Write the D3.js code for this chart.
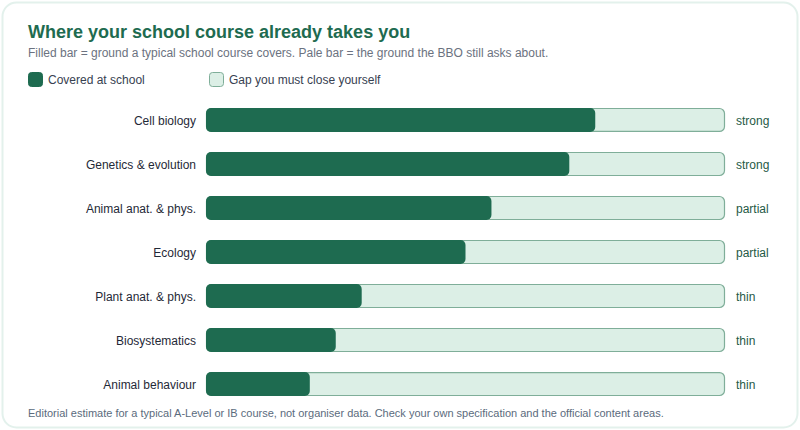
<!DOCTYPE html>
<html>
<head>
<meta charset="utf-8">
<script src="https://cdn.jsdelivr.net/npm/d3@7"></script>
<style>
  html, body { margin: 0; padding: 0; background: #fff; }
  body { width: 800px; height: 430px; font-family: "Liberation Sans", Arial, sans-serif; }
</style>
</head>
<body>
<div id="chart"></div>
<script>
const topics = ["Cell biology", "Genetics & evolution", "Animal anat. & phys.", "Ecology",
                "Plant anat. & phys.", "Biosystematics", "Animal behaviour"];
const covered = [0.75, 0.70, 0.55, 0.50, 0.30, 0.25, 0.20];
const ratings = ["strong", "strong", "partial", "partial", "thin", "thin", "thin"];
const legendLabels = ["Covered at school", "Gap you must close yourself"];

const W = 800, H = 430;
const dark = "#1e6b50", pale = "#dcefe6", paleStroke = "#7fae99";

const svg = d3.select("#chart").append("svg")
    .attr("width", W).attr("height", H);

// card
svg.append("rect")
    .attr("x", 2.5).attr("y", 2.5)
    .attr("width", W - 5).attr("height", H - 5)
    .attr("rx", 14)
    .attr("fill", "#fff")
    .attr("stroke", "#e3f1ec")
    .attr("stroke-width", 2);

svg.append("text")
    .attr("x", 28).attr("y", 38)
    .attr("fill", dark)
    .style("font-size", "18px").style("font-weight", "bold")
    .text("Where your school course already takes you");

svg.append("text")
    .attr("x", 28).attr("y", 57)
    .attr("fill", "#6b7280")
    .style("font-size", "12px")
    .text("Filled bar = ground a typical school course covers. Pale bar = the ground the BBO still asks about.");

// legend
const legendX = [28, 209];
legendLabels.forEach(function(lab, i) {
    const g = svg.append("g").attr("transform", `translate(${legendX[i]},72)`);
    g.append("rect")
        .attr("x", 0.5).attr("y", 0.5)
        .attr("width", 14).attr("height", 14)
        .attr("rx", 3)
        .attr("fill", i == 0 ? dark : pale)
        .attr("stroke", i == 0 ? dark : paleStroke)
        .attr("stroke-width", 1);
    g.append("text")
        .attr("x", 20).attr("y", 12)
        .attr("fill", "#374151")
        .style("font-size", "12px")
        .text(lab);
});

const x = d3.scaleLinear().domain([0, 1]).range([206, 725]);
const y = d3.scaleBand().domain(topics).range([98, 406]).paddingInner(0.455).paddingOuter(0.227);

const rows = svg.selectAll(".row")
    .data(topics)
    .enter().append("g")
    .attr("class", "row")
    .attr("transform", d => `translate(0,${y(d)})`);

const bh = y.bandwidth();

rows.append("rect")
    .attr("x", x(0) + 0.5).attr("y", 0.5)
    .attr("width", x(1) - x(0) - 1).attr("height", bh - 1)
    .attr("rx", 5)
    .attr("fill", pale)
    .attr("stroke", paleStroke)
    .attr("stroke-width", 1.2);

rows.append("rect")
    .attr("x", x(0)).attr("y", 0)
    .attr("width", (d, i) => x(covered[i]) - x(0))
    .attr("height", bh)
    .attr("rx", 5)
    .attr("fill", dark);

rows.append("text")
    .attr("x", 196).attr("y", bh / 2)
    .attr("dy", "0.38em")
    .attr("text-anchor", "end")
    .attr("fill", "#1f2937")
    .style("font-size", "12px")
    .text(d => d);

rows.append("text")
    .attr("x", 736).attr("y", bh / 2)
    .attr("dy", "0.38em")
    .attr("fill", "#1f5a46")
    .style("font-size", "12px")
    .text((d, i) => ratings[i]);

svg.append("text")
    .attr("x", 28).attr("y", 417)
    .attr("fill", "#5b6b7d")
    .style("font-size", "11px")
    .text("Editorial estimate for a typical A-Level or IB course, not organiser data. Check your own specification and the official content areas.");
</script>
</body>
</html>
